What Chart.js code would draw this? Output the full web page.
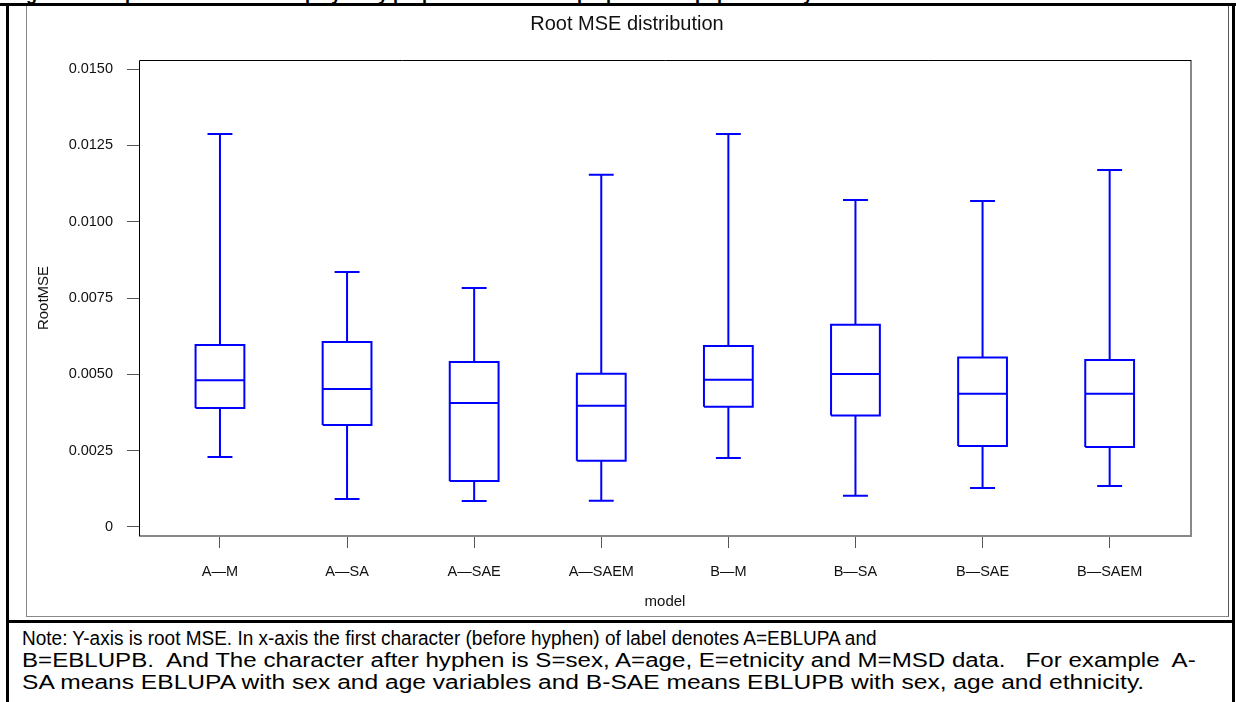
<!DOCTYPE html>
<html>
<head>
<meta charset="utf-8">
<title>Root MSE distribution</title>
<script src="https://cdn.jsdelivr.net/npm/chart.js@4.4.1/dist/chart.umd.min.js"></script>
<style>
    body { margin: 0; background: #fff; }
    #page { position: relative; width: 1236px; height: 702px; overflow: hidden; font-family: "Liberation Sans", Arial, sans-serif; }
    .rule { position: absolute; background: #000; }
    #caption { position: absolute; left: 10px; top: 0; width: 1220px; height: 4px; overflow: hidden; }
    #caption span { position: relative; top: -15px; font: bold 18px/18px "Liberation Sans", Arial, sans-serif; white-space: nowrap; }
    #frame { position: absolute; left: 26px; top: 6px; width: 1201px; height: 610px; border-left: 1px solid #888; border-bottom: 1px solid #888; border-right: 1px solid #555; }
    #chartBox { position: absolute; left: 27px; top: 6px; width: 1200px; height: 610px; }
    #note { position: absolute; left: 22px; top: 627px; font-size: 20px; line-height: 22px; color: #000; white-space: nowrap; }
    #note div { transform-origin: 0 50%; }
</style>
</head>
<body>
<div id="page">
    <div id="caption"><span>Figure 3: Boxplots of root MSE displayed by proposed models for proportion of population by small area</span></div>
    <div class="rule" style="left:0;top:3px;width:1236px;height:3px"></div>
    <div class="rule" style="left:6px;top:3px;width:3px;height:699px"></div>
    <div class="rule" style="left:1232px;top:3px;width:3px;height:699px"></div>
    <div class="rule" style="left:6px;top:620px;width:1229px;height:3px"></div>
    <div id="frame"></div>
    <div id="chartBox"><canvas id="boxChart" width="1200" height="610"></canvas></div>
    <div id="note">
        <div style="transform:scaleX(0.95)">Note: Y-axis is root MSE. In x-axis the first character (before hyphen) of label denotes A=EBLUPA and</div>
        <div style="transform:scaleX(1.205)">B=EBLUPB.&nbsp; And The character after hyphen is S=sex, A=age, E=etnicity and M=MSD data.&nbsp;&nbsp; For example&nbsp; A-</div>
        <div style="transform:scaleX(1.229)">SA means EBLUPA with sex and age variables and B-SAE means EBLUPB with sex, age and ethnicity.</div>
    </div>
</div>
<script>
const models = ['A\u2014M', 'A\u2014SA', 'A\u2014SAE', 'A\u2014SAEM', 'B\u2014M', 'B\u2014SA', 'B\u2014SAE', 'B\u2014SAEM'];
const whiskerLow  = [0.00229, 0.00092, 0.00085, 0.00086, 0.00226, 0.00102, 0.00128, 0.00134];
const quart1      = [0.00390, 0.00334, 0.00151, 0.00217, 0.00394, 0.00365, 0.00265, 0.00262];
const medians     = [0.00481, 0.00452, 0.00406, 0.00397, 0.00482, 0.00501, 0.00436, 0.00436];
const quart3      = [0.00596, 0.00606, 0.00540, 0.00502, 0.00593, 0.00662, 0.00555, 0.00547];
const whiskerHigh = [0.01287, 0.00835, 0.00783, 0.01154, 0.01287, 0.01071, 0.01068, 0.01169];
const yTicks = [0, 0.0025, 0.0050, 0.0075, 0.0100, 0.0125, 0.0150];
const yTickLabels = ['0', '0.0025', '0.0050', '0.0075', '0.0100', '0.0125', '0.0150'];

const boxHalf = 0.192;   // half box width in category units
const capHalf = 0.098;   // half whisker cap width

// build line segments for every box, gaps (null) split the segments
const pts = [];
const seg = (...p) => { p.forEach(q => pts.push({ x: q[0], y: q[1] })); pts.push({ x: p[0][0], y: null }); };
models.forEach((m, i) => {
    seg([i - boxHalf, quart1[i]], [i + boxHalf, quart1[i]], [i + boxHalf, quart3[i]], [i - boxHalf, quart3[i]], [i - boxHalf, quart1[i]]);
    seg([i - boxHalf, medians[i]], [i + boxHalf, medians[i]]);
    seg([i, quart3[i]], [i, whiskerHigh[i]]);
    seg([i - capHalf, whiskerHigh[i]], [i + capHalf, whiskerHigh[i]]);
    seg([i, quart1[i]], [i, whiskerLow[i]]);
    seg([i - capHalf, whiskerLow[i]], [i + capHalf, whiskerLow[i]]);
});

// plot frame: black top/left, grey shadowed right/bottom
const framePlugin = {
    id: 'plotFrame',
    afterDatasetsDraw(chart) {
        const { ctx, chartArea: a } = chart;
        ctx.save();
        ctx.lineWidth = 2;
        ctx.strokeStyle = '#888';
        ctx.beginPath();
        ctx.moveTo(a.right, a.top);
        ctx.lineTo(a.right, a.bottom);
        ctx.lineTo(a.left, a.bottom);
        ctx.stroke();
        ctx.lineWidth = 1;
        ctx.strokeStyle = '#000';
        ctx.beginPath();
        ctx.moveTo(a.left + 0.5, a.bottom);
        ctx.lineTo(a.left + 0.5, a.top + 0.5);
        ctx.lineTo(a.right, a.top + 0.5);
        ctx.stroke();
        ctx.restore();
    }
};

const font = '"Liberation Sans", Arial, sans-serif';

new Chart(document.getElementById('boxChart'), {
    type: 'scatter',
    data: {
        datasets: [{
            label: 'RootMSE',
            data: pts,
            showLine: true,
            spanGaps: false,
            borderColor: '#0000FF',
            borderWidth: 2,
            borderJoinStyle: 'miter',
            pointRadius: 0,
            pointHoverRadius: 0
        }]
    },
    options: {
        responsive: false,
        animation: false,
        events: [],
        layout: { padding: 0 },
        plugins: {
            legend: { display: false },
            tooltip: { enabled: false },
            title: {
                display: true,
                text: 'Root MSE distribution',
                color: '#111',
                font: { family: font, size: 20, weight: 'normal', lineHeight: 1.2 },
                padding: { top: 6, bottom: 24 }
            }
        },
        scales: {
            x: {
                type: 'linear',
                min: -0.637,
                max: 7.64,
                afterBuildTicks: s => { s.ticks = models.map((m, i) => ({ value: i })); },
                afterFit: s => { s.height = 80; },
                ticks: {
                    autoSkip: false,
                    maxRotation: 0,
                    padding: 15,
                    color: '#111',
                    font: { family: font, size: 14.5 },
                    callback: v => models[v]
                },
                grid: { drawOnChartArea: false, drawTicks: true, tickLength: 12, color: '#555' },
                border: { display: false },
                title: {
                    display: true,
                    text: 'model',
                    color: '#111',
                    font: { family: font, size: 15 },
                    padding: { top: 0, bottom: 5 }
                }
            },
            y: {
                min: -0.000295,
                max: 0.015295,
                afterBuildTicks: s => { s.ticks = yTicks.map(v => ({ value: v })); },
                afterFit: s => { s.width = 112; },
                ticks: {
                    padding: 14,
                    color: '#111',
                    font: { family: font, size: 14.5 },
                    callback: (v, i) => yTickLabels[i]
                },
                grid: { drawOnChartArea: false, drawTicks: true, tickLength: 12, color: '#555' },
                border: { display: false },
                title: {
                    display: true,
                    text: 'RootMSE',
                    color: '#111',
                    font: { family: font, size: 15 },
                    padding: { top: 8, bottom: 0 }
                }
            },
            // empty right-hand margin so the title stays centred on the whole image
            yRight: {
                position: 'right',
                display: true,
                min: -0.000295,
                max: 0.015295,
                afterFit: s => { s.width = 36; },
                ticks: { display: false },
                grid: { display: false },
                border: { display: false }
            }
        }
    },
    plugins: [framePlugin]
});
</script>
</body>
</html>
